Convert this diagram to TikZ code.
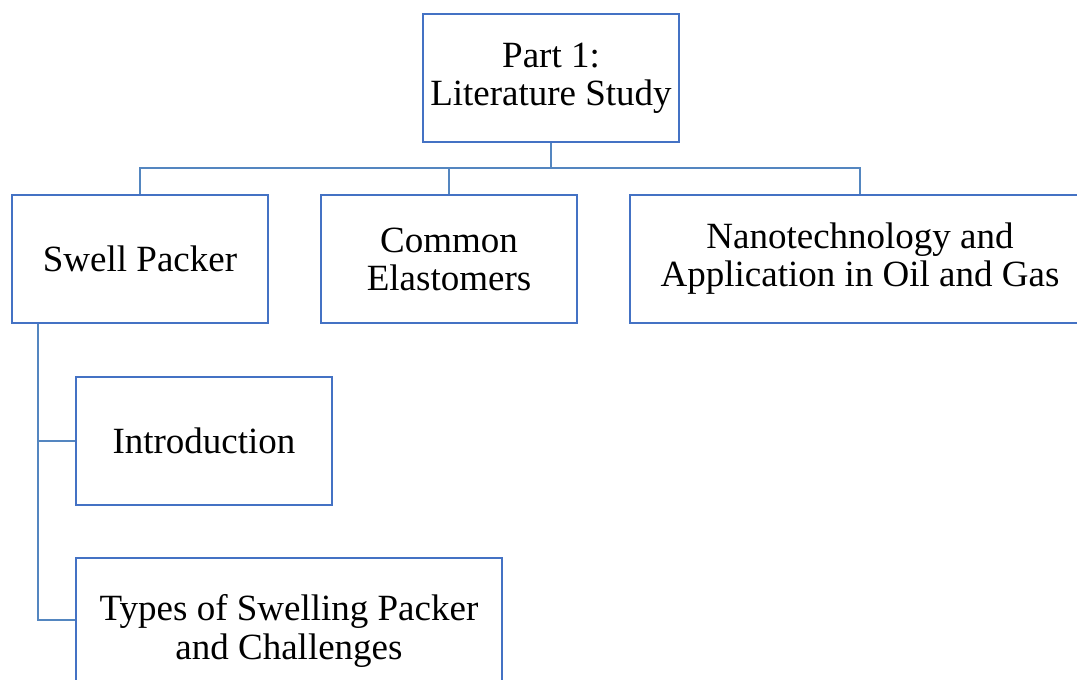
\documentclass[tikz,border=0pt]{standalone}
\usepackage{fontspec}
\setmainfont{Liberation Serif}
\definecolor{boxblue}{RGB}{68,114,196}
\definecolor{linkblue}{RGB}{84,134,192}
\begin{document}
\begin{tikzpicture}[x=0.75pt,y=-0.75pt,
  topic/.style={draw=boxblue,line width=2.2pt,fill=white,inner sep=0pt,
    minimum width=192pt,minimum height=96pt,align=center,
    font=\fontsize{27.75}{28.6}\selectfont},
  link/.style={draw=linkblue,line width=1.8pt}]
\clip (0,0) rectangle (1077,679);
\fill[white] (0,0) rectangle (1077,679);

% topic boxes
\node[topic] (top) at (551,78) {Part 1:\\Literature Study};
\node[topic] (sp) at (140,259) {Swell Packer};
\node[topic] (ce) at (449,259) {Common\\Elastomers};
\node[topic,minimum width=345pt] (nt) at (860,259) {Nanotechnology and\\Application in Oil and Gas};
\node[topic] (in) at (204,441) {Introduction};
\node[topic,minimum width=319.5pt,minimum height=109.5pt] (ty) at (289,631) {Types of Swelling Packer\\and Challenges};

% junction points of the tree
\coordinate (bus) at (551,168);
\coordinate (trunk) at ([xshift=20.6pt]sp.south west);
\coordinate (tyjoin) at ([yshift=8.25pt]ty.west);

% connectors
\draw[link] (top.south) -- (bus);
\draw[link] (sp.north) -- (sp.north |- bus) -- (nt.north |- bus) -- (nt.north);
\draw[link] (ce.north) -- (ce.north |- bus);
\draw[link] (trunk) |- (in.west);
\draw[link] (trunk) |- (tyjoin);
\end{tikzpicture}
\end{document}
